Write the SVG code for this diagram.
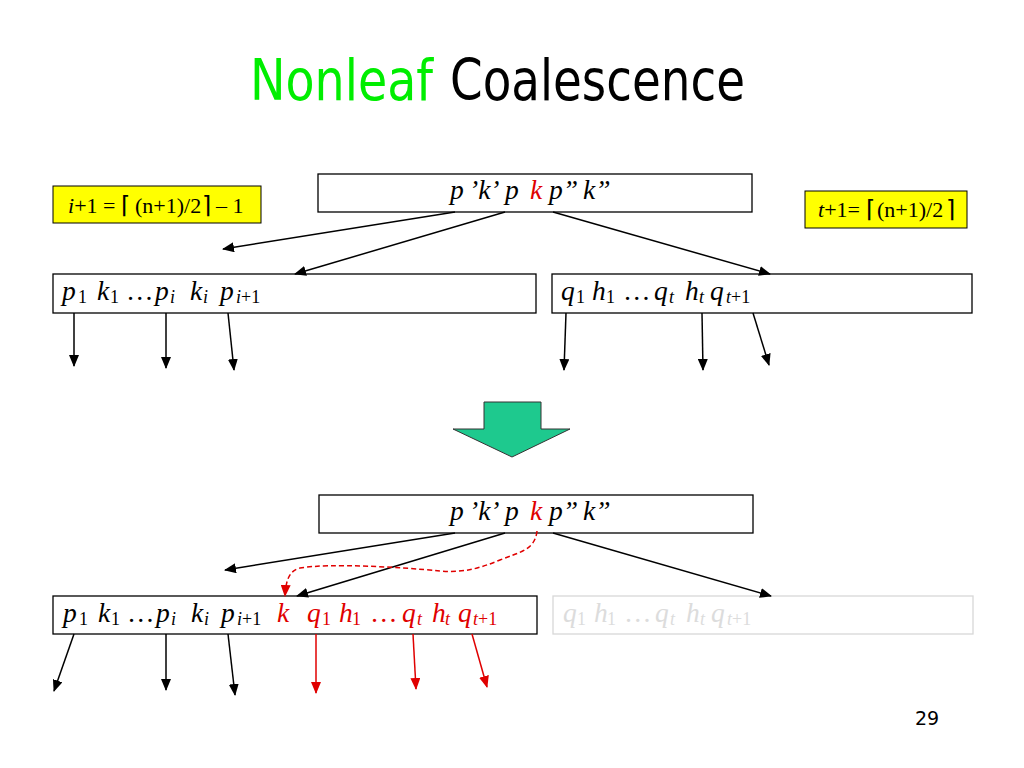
<svg xmlns="http://www.w3.org/2000/svg" width="1024" height="768" viewBox="0 0 1024 768">
<defs>
<marker id="ah" markerWidth="12" markerHeight="10" refX="11" refY="5" orient="auto" markerUnits="userSpaceOnUse"><path d="M0,0 L12,5 L0,10 Z" fill="#000"/></marker>
<marker id="ahr" markerWidth="12" markerHeight="10" refX="11" refY="5" orient="auto" markerUnits="userSpaceOnUse"><path d="M0,0 L12,5 L0,10 Z" fill="#e00000"/></marker>
</defs>
<style>
.box{fill:#fff;stroke:#000;stroke-width:1.3}
.ghost{fill:#fff;stroke:#d8d8d8;stroke-width:1.3}
.yel{fill:#ffff00;stroke:#000;stroke-width:1}
.m{font-family:"Liberation Serif","Times New Roman",serif;font-size:27.5px;fill:#000}
.i{font-style:italic}
.s{font-size:18px}
.red{fill:#e00000}
.gt{fill:#dcdcdc}
.y{font-family:"Liberation Serif","Times New Roman",serif;font-size:22px;fill:#000}
.br{font-family:"DejaVu Sans",sans-serif;font-size:24px}
.ln{stroke:#000;stroke-width:1.5;fill:none;marker-end:url(#ah)}
.lr{stroke:#e00000;stroke-width:1.5;fill:none;marker-end:url(#ahr)}
.dash{stroke:#e00000;stroke-width:1.5;fill:none;stroke-dasharray:5,3;marker-end:url(#ahr)}
</style>
<rect width="1024" height="768" fill="#fff"/>
<g id="title" font-family="'DejaVu Sans',Verdana,sans-serif" font-size="57">
<text x="250" y="100" fill="#00ee00" textLength="183" lengthAdjust="spacingAndGlyphs">Nonleaf</text>
<text x="450" y="100" fill="#000" textLength="295" lengthAdjust="spacingAndGlyphs">Coalescence</text>
</g>
<g id="note-left">
<rect class="yel" x="53" y="186" width="208" height="37"/>
<text class="y" y="213"><tspan x="68" class="i">i</tspan><tspan>+1 =</tspan><tspan x="121" class="br">⌈</tspan><tspan x="135">(n+1)/2</tspan><tspan x="202" class="br">⌉</tspan><tspan x="216">– 1</tspan></text>
</g>
<g id="note-right">
<rect class="yel" x="805" y="191" width="162" height="37"/>
<text class="y" y="217"><tspan x="818" class="i">t</tspan><tspan>+1=</tspan><tspan x="866" class="br">⌈</tspan><tspan x="877">(n+1)/2</tspan><tspan x="946" class="br">⌉</tspan></text>
</g>
<g id="top-parent">
<rect class="box" x="318" y="174" width="434" height="38"/>
<text class="m i" y="199"><tspan x="450">p</tspan><tspan x="469">’k’</tspan><tspan x="505">p</tspan><tspan x="530" class="red">k</tspan><tspan x="549">p”</tspan><tspan x="583">k”</tspan></text>
</g>
<g id="top-left">
<rect class="box" x="53" y="274" width="483" height="39"/>
<text class="m" y="300"><tspan x="62" class="i">p</tspan><tspan x="78" dy="3" class="s">1</tspan><tspan x="97" dy="-3" class="i">k</tspan><tspan x="110" dy="3" class="s">1</tspan><tspan x="126" dy="-3">…</tspan><tspan x="155" class="i">p</tspan><tspan x="170" dy="3" class="s i">i</tspan><tspan x="190" dy="-3" class="i">k</tspan><tspan x="203" dy="3" class="s i">i</tspan><tspan x="220" dy="-3" class="i">p</tspan><tspan x="236" dy="3" class="s"><tspan class="i">i</tspan>+1</tspan></text>
</g>
<g id="top-right">
<rect class="box" x="552" y="274" width="420" height="39"/>
<text class="m" y="300"><tspan x="561" class="i">q</tspan><tspan x="576" dy="3" class="s">1</tspan><tspan x="592" dy="-3" class="i">h</tspan><tspan x="606" dy="3" class="s">1</tspan><tspan x="623" dy="-3">…</tspan><tspan x="654" class="i">q</tspan><tspan x="669" dy="3" class="s i">t</tspan><tspan x="685" dy="-3" class="i">h</tspan><tspan x="699" dy="3" class="s i">t</tspan><tspan x="710" dy="-3" class="i">q</tspan><tspan x="726" dy="3" class="s"><tspan class="i">t</tspan>+1</tspan></text>
</g>
<g id="transform-arrow">
<path d="M484,402 L541,402 L541,429 L570,429 L512,457 L453,429 L484,429 Z" fill="#1ec98e" stroke="#333" stroke-width="1"/>
</g>
<g id="bottom-parent">
<rect class="box" x="319" y="495" width="434" height="38"/>
<text class="m i" y="520"><tspan x="450">p</tspan><tspan x="469">’k’</tspan><tspan x="505">p</tspan><tspan x="530" class="red">k</tspan><tspan x="549">p”</tspan><tspan x="583">k”</tspan></text>
</g>
<g id="bottom-left">
<rect class="box" x="53" y="596" width="484" height="38"/>
<text class="m" y="622"><tspan x="63" class="i">p</tspan><tspan x="79" dy="3" class="s">1</tspan><tspan x="98" dy="-3" class="i">k</tspan><tspan x="111" dy="3" class="s">1</tspan><tspan x="127" dy="-3">…</tspan><tspan x="156" class="i">p</tspan><tspan x="171" dy="3" class="s i">i</tspan><tspan x="191" dy="-3" class="i">k</tspan><tspan x="204" dy="3" class="s i">i</tspan><tspan x="221" dy="-3" class="i">p</tspan><tspan x="237" dy="3" class="s"><tspan class="i">i</tspan>+1</tspan><tspan x="277" dy="-3" class="i red">k</tspan><tspan x="307" class="i red">q</tspan><tspan x="322" dy="3" class="s red">1</tspan><tspan x="339" dy="-3" class="i red">h</tspan><tspan x="352" dy="3" class="s red">1</tspan><tspan x="370" dy="-3" class="red">…</tspan><tspan x="402" class="i red">q</tspan><tspan x="417" dy="3" class="s i red">t</tspan><tspan x="432" dy="-3" class="i red">h</tspan><tspan x="445" dy="3" class="s i red">t</tspan><tspan x="458" dy="-3" class="i red">q</tspan><tspan x="473" dy="3" class="s red"><tspan class="i">t</tspan>+1</tspan></text>
</g>
<g id="bottom-right-ghost">
<rect class="ghost" x="553" y="596" width="420" height="38"/>
<text class="m gt" y="622"><tspan x="563" class="i">q</tspan><tspan x="577" dy="3" class="s">1</tspan><tspan x="594" dy="-3" class="i">h</tspan><tspan x="607" dy="3" class="s">1</tspan><tspan x="624" dy="-3">…</tspan><tspan x="655" class="i">q</tspan><tspan x="670" dy="3" class="s i">t</tspan><tspan x="686" dy="-3" class="i">h</tspan><tspan x="700" dy="3" class="s i">t</tspan><tspan x="711" dy="-3" class="i">q</tspan><tspan x="727" dy="3" class="s"><tspan class="i">t</tspan>+1</tspan></text>
</g>
<g id="page-number">
<text x="915" y="725" font-family="'DejaVu Sans',Verdana,sans-serif" font-size="19" fill="#000">29</text>
</g>
<g id="connectors">
<line class="ln" x1="455" y1="212" x2="223" y2="249"/>
<line class="ln" x1="505" y1="212" x2="295" y2="274"/>
<line class="ln" x1="553" y1="212" x2="770" y2="274"/>
<line class="ln" x1="74" y1="313" x2="74" y2="366"/>
<line class="ln" x1="166" y1="313" x2="166" y2="368"/>
<line class="ln" x1="228" y1="313" x2="234" y2="370"/>
<line class="ln" x1="566" y1="313" x2="564" y2="370"/>
<line class="ln" x1="702" y1="313" x2="703" y2="370"/>
<line class="ln" x1="753" y1="313" x2="769" y2="365"/>
<line class="ln" x1="455" y1="533" x2="225" y2="570"/>
<line class="ln" x1="505" y1="533" x2="297" y2="596"/>
<line class="ln" x1="553" y1="533" x2="771" y2="596"/>
<path class="dash" d="M537,531 C535,550 520,552 500,560 C480,568 465,573 440,571 C400,567 330,563 300,568 C289,571 286,580 285,596"/>
<line class="ln" x1="74" y1="634" x2="54" y2="691"/>
<line class="ln" x1="166" y1="634" x2="166" y2="690"/>
<line class="ln" x1="228" y1="634" x2="235" y2="695"/>
<line class="lr" x1="316" y1="634" x2="316" y2="693"/>
<line class="lr" x1="413" y1="634" x2="416" y2="689"/>
<line class="lr" x1="472" y1="634" x2="487" y2="687"/>
</g>
</svg>
